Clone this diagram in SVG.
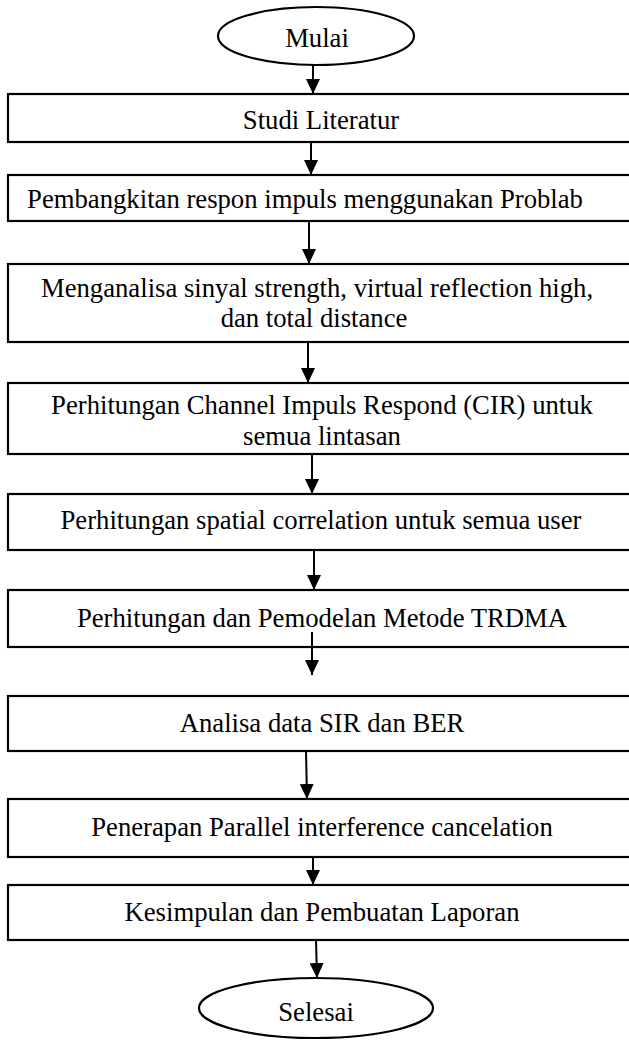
<svg xmlns="http://www.w3.org/2000/svg" width="629" height="1041" viewBox="0 0 629 1041">
<style>
.box{fill:#fff;stroke:#000;stroke-width:2.2}
.t{font-family:"Liberation Serif","Times New Roman","DejaVu Serif",serif;font-size:26.7px;fill:#000;text-anchor:middle}
.c{stroke:#000;stroke-width:2;fill:none}
</style>
<defs>
<marker id="ah" markerWidth="15" markerHeight="14" refX="15" refY="7" orient="auto" markerUnits="userSpaceOnUse" viewBox="0 0 15 14"><path d="M0,0 L15,7 L0,14 z" fill="#000"/></marker>
</defs>
<rect width="629" height="1041" fill="#fff"/>
<g id="n0"><ellipse class="box" cx="316" cy="36" rx="98" ry="29"/><text class="t" x="317" y="47">Mulai</text></g>
<g id="n1"><rect class="box" x="8" y="94" width="640" height="48"/><text class="t" x="321" y="129">Studi Literatur</text></g>
<g id="n2"><rect class="box" x="8" y="175" width="640" height="46"/><text class="t" x="305" y="208">Pembangkitan respon impuls menggunakan Problab</text></g>
<g id="n3"><rect class="box" x="8" y="264" width="640" height="78"/><text class="t" x="317" y="297">Menganalisa sinyal strength, virtual reflection high,</text><text class="t" x="314" y="327">dan total distance</text></g>
<g id="n4"><rect class="box" x="8" y="383" width="640" height="71"/><text class="t" x="322" y="414">Perhitungan Channel Impuls Respond (CIR) untuk</text><text class="t" x="322" y="445">semua lintasan</text></g>
<g id="n5"><rect class="box" x="8" y="494" width="640" height="56"/><text class="t" x="321" y="529">Perhitungan spatial correlation untuk semua user</text></g>
<g id="n6"><rect class="box" x="8" y="590" width="640" height="57"/><text class="t" x="322" y="627">Perhitungan dan Pemodelan Metode TRDMA</text></g>
<g id="n7"><rect class="box" x="8" y="696" width="640" height="55"/><text class="t" x="322" y="732">Analisa data SIR dan BER</text></g>
<g id="n8"><rect class="box" x="8" y="799" width="640" height="58"/><text class="t" x="322" y="836">Penerapan Parallel interference cancelation</text></g>
<g id="n9"><rect class="box" x="8" y="885" width="640" height="55"/><text class="t" x="322" y="921">Kesimpulan dan Pembuatan Laporan</text></g>
<g id="n10"><ellipse class="box" cx="316" cy="1008" rx="117" ry="30"/><text class="t" x="316" y="1021">Selesai</text></g>
<g id="connectors">
<line class="c" x1="313" y1="65" x2="313" y2="94" marker-end="url(#ah)"/>
<line class="c" x1="311" y1="142" x2="311" y2="175" marker-end="url(#ah)"/>
<line class="c" x1="309" y1="221" x2="309" y2="264" marker-end="url(#ah)"/>
<line class="c" x1="308" y1="342" x2="308" y2="383" marker-end="url(#ah)"/>
<line class="c" x1="312" y1="454" x2="312" y2="494" marker-end="url(#ah)"/>
<line class="c" x1="314" y1="550" x2="314" y2="590" marker-end="url(#ah)"/>
<line class="c" x1="312" y1="632" x2="312" y2="675" marker-end="url(#ah)"/>
<line class="c" x1="306" y1="751" x2="307" y2="799" marker-end="url(#ah)"/>
<line class="c" x1="313" y1="857" x2="313" y2="885" marker-end="url(#ah)"/>
<line class="c" x1="316" y1="940" x2="317" y2="978" marker-end="url(#ah)"/>
</g>
</svg>
